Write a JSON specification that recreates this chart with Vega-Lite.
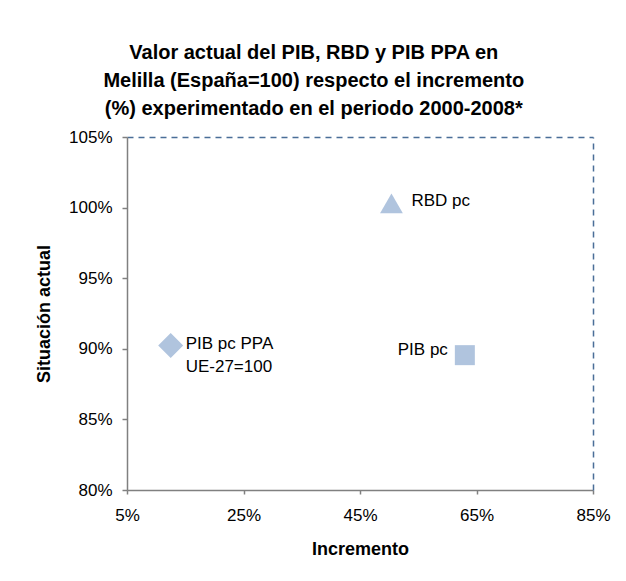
{
  "$schema": "https://vega.github.io/schema/vega-lite/v6.json",
  "width": 466,
  "height": 353,
  "autosize": {"type": "none"},
  "padding": {"left": 127, "top": 137, "right": 33, "bottom": 91},
  "background": "white",
  "config": {
    "font": "Liberation Sans",
    "view": {"stroke": null}
  },
  "title": {
    "text": ["Valor actual del PIB, RBD y PIB PPA en", "Melilla (España=100) respecto el incremento", "(%) experimentado en el periodo 2000-2008*"],
    "font": "Liberation Sans",
    "fontSize": 20,
    "fontWeight": "bold",
    "color": "black",
    "anchor": "middle",
    "frame": "bounds",
    "lineHeight": 28,
    "offset": 9,
    "dx": -9
  },
  "data": {
    "values": [
      {"serie": "PIB pc PPA", "label": "PIB pc PPA\nUE-27=100", "incremento": 0.125, "situacion": 0.9023},
      {"serie": "RBD pc", "label": "RBD pc", "incremento": 0.504, "situacion": 1.003},
      {"serie": "PIB pc", "label": "PIB pc", "incremento": 0.63, "situacion": 0.8955}
    ]
  },
  "layer": [
    {
      "encoding": {
        "x": {
          "field": "incremento", "type": "quantitative",
          "scale": {"domain": [0.05, 0.85], "nice": false, "zero": false},
          "axis": {
            "orient": "bottom",
            "values": [0.05, 0.25, 0.45, 0.65, 0.85], "format": ".0%", "grid": false,
            "title": "Incremento", "titleFontSize": 18, "titleFontWeight": "bold", "titleColor": "black", "titlePadding": 17,
            "labelFontSize": 17, "labelColor": "black", "labelPadding": 13, "labelFlush": false,
            "tickSize": 4, "tickColor": "#808080", "tickWidth": 1.5, "domainColor": "#808080", "domainWidth": 1.5
          }
        },
        "y": {
          "field": "situacion", "type": "quantitative",
          "scale": {"domain": [0.8, 1.05], "nice": false, "zero": false},
          "axis": {
            "orient": "left",
            "values": [0.8, 0.85, 0.9, 0.95, 1.0, 1.05], "format": ".0%", "grid": false,
            "title": "Situación actual", "titleFontSize": 18, "titleFontWeight": "bold", "titleColor": "black", "titlePadding": 15,
            "labelFontSize": 17, "labelColor": "black", "labelPadding": 10, "labelFlush": false,
            "tickSize": 5, "tickColor": "#808080", "tickWidth": 1.5, "domainColor": "#808080", "domainWidth": 1.5
          }
        }
      },
      "layer": [
        {
          "transform": [{"filter": "datum.serie === 'PIB pc PPA'"}],
          "mark": {"type": "point", "shape": "diamond", "filled": true, "opacity": 1, "color": "#B0C4DE", "size": 625}
        },
        {
          "transform": [{"filter": "datum.serie === 'RBD pc'"}],
          "mark": {"type": "point", "shape": "triangle-up", "filled": true, "opacity": 1, "color": "#B0C4DE", "size": 520}
        },
        {
          "transform": [{"filter": "datum.serie === 'PIB pc'"}],
          "mark": {"type": "point", "shape": "square", "filled": true, "opacity": 1, "color": "#B0C4DE", "size": 400}
        },
        {
          "transform": [{"filter": "datum.serie === 'PIB pc PPA'"}],
          "mark": {"type": "text", "align": "left", "baseline": "alphabetic", "dx": 15, "dy": 3, "fontSize": 17, "color": "black", "lineBreak": "\n", "lineHeight": 23},
          "encoding": {"text": {"field": "label", "type": "nominal"}}
        },
        {
          "transform": [{"filter": "datum.serie === 'RBD pc'"}],
          "mark": {"type": "text", "align": "left", "baseline": "middle", "dx": 20, "dy": -2, "fontSize": 17, "color": "black"},
          "encoding": {"text": {"field": "label", "type": "nominal"}}
        },
        {
          "transform": [{"filter": "datum.serie === 'PIB pc'"}],
          "mark": {"type": "text", "align": "right", "baseline": "middle", "dx": -17, "dy": -5, "fontSize": 17, "color": "black"},
          "encoding": {"text": {"field": "label", "type": "nominal"}}
        }
      ]
    },
    {
      "mark": {"type": "point", "opacity": 0},
      "encoding": {
        "x": {
          "field": "incremento", "type": "quantitative",
          "axis": {"orient": "top", "title": null, "labels": false, "ticks": false, "grid": false, "domainColor": "#4A6E98", "domainWidth": 1.5, "domainDash": [6, 5]}
        },
        "y": {
          "field": "situacion", "type": "quantitative",
          "axis": {"orient": "right", "title": null, "labels": false, "ticks": false, "grid": false, "domainColor": "#4A6E98", "domainWidth": 1.5, "domainDash": [6, 5]}
        }
      }
    }
  ],
  "resolve": {"axis": {"x": "independent", "y": "independent"}}
}
